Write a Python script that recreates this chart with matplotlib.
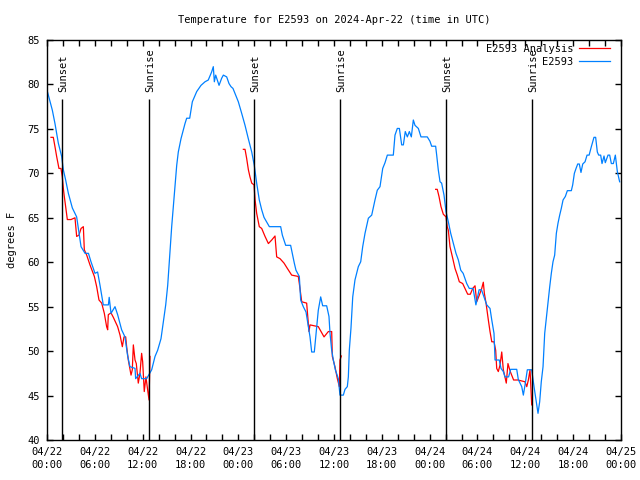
import numpy as np
import matplotlib
matplotlib.use('Agg')
import matplotlib.pyplot as plt

# Temperature for E2593, 3 days from 2024-04-22 00:00 UTC (hours since start)
obs_hours = [0.08, 0.67, 1.0, 1.42, 1.84, 2.05, 2.34, 2.68, 3.18, 3.72, 3.93, 4.27, 4.77, 5.2, 5.5,
             6.02, 6.35, 6.65, 7.06, 7.7, 7.8, 8.03, 8.53, 8.86, 9.36, 9.78, 10.1, 10.4, 11.04, 11.12,
             11.66, 11.87, 12.5, 13.13, 13.55, 13.88, 14.3, 14.6, 14.89, 15.14, 15.43, 15.64, 15.97,
             16.27, 16.47, 16.81, 17.31, 17.52, 17.9, 18.23, 18.78, 19.32, 19.82, 20.23, 20.65, 20.86,
             20.99, 21.16, 21.58, 21.91, 22.12, 22.54, 22.83, 23.08, 23.33, 23.58, 24.0, 24.42, 24.84,
             25.25, 25.68, 26.0, 26.3, 26.63, 26.93, 27.22, 27.89, 29.31, 29.52, 29.94, 30.56, 30.81,
             31.02, 31.23, 31.65, 31.82, 32.15, 32.49, 32.78, 32.99, 33.2, 33.53, 33.83, 34.03, 34.33,
             34.58, 35.08, 35.37, 35.5, 35.71, 35.92, 36.17, 36.54, 36.75, 37.17, 37.38, 37.67, 37.8,
             37.92, 38.13, 38.35, 38.63, 39.05, 39.35, 39.6, 39.89, 40.31, 40.73, 41.14, 41.43, 41.77,
             42.11, 42.4, 42.69, 43.44, 43.65, 43.94, 44.2, 44.49, 44.7, 44.94, 45.2, 45.45, 45.7,
             45.95, 46.16, 46.58, 46.91, 47.7, 48.04, 48.25, 48.75, 48.88, 49.08, 49.3, 49.5, 49.8,
             50.05, 50.34, 50.64, 50.97, 51.3, 51.6, 51.9, 52.2, 52.65, 52.97, 53.45, 53.8, 54.2, 54.5,
             54.87, 55.16, 55.57, 55.79, 56.07, 56.2, 56.73, 56.95, 57.24, 57.45, 57.9, 58.16, 58.92,
             59.12, 59.55, 59.75, 60.0, 60.25, 60.8, 61.09, 61.38, 61.59, 61.8, 62.0, 62.22, 62.43,
             62.63, 62.84, 63.06, 63.26, 63.47, 63.68, 63.89, 64.1, 64.31, 64.51, 64.73, 65.02, 65.27,
             65.77, 65.94, 66.15, 66.36, 66.57, 66.77, 66.98, 67.2, 67.49, 67.74, 68.0, 68.28, 68.61,
             68.82, 69.03, 69.2, 69.45, 69.62, 69.87, 70.03, 70.37, 70.58, 70.79, 71.04, 71.29, 71.54,
             71.83]
obs_temps = [79.1, 77.1, 75.6, 73.4, 71.9, 70.4, 69.25, 67.75, 66.1, 65.1, 63.8, 61.75, 61.0, 61.0, 60.1,
             58.75, 58.9, 57.4, 55.2, 55.2, 56.05, 54.25, 55.0, 54.1, 52.4, 51.6, 49.55, 48.25, 48.06, 46.9,
             47.5, 46.9, 46.9, 47.9, 49.4, 50.1, 51.4, 53.3, 55.2, 57.4, 61.2, 64.0, 67.6,
             70.9, 72.4, 73.9, 75.6, 76.2, 76.2, 78.05, 79.2, 79.9, 80.3, 80.5, 81.4, 82.0,
             80.3, 81.05, 79.9, 80.7, 81.05, 80.85, 80.1, 79.75, 79.55, 79.0, 78.05, 76.75, 75.4,
             73.9, 72.4, 70.9, 68.9, 67.0, 65.9, 65.05, 64.0, 64.0, 63.05, 61.9, 61.9, 60.8,
             59.9, 59.1, 58.4, 55.75, 55.0, 54.4, 52.75, 51.6, 49.9, 49.9, 52.75, 54.6, 56.1,
             55.1, 55.1, 53.9, 52.0, 50.1, 49.0, 47.9, 46.9, 45.05, 45.05, 45.7, 46.0, 47.1,
             50.1, 52.6, 56.1, 58.0, 59.5, 60.05, 61.75, 63.25, 64.95, 65.3, 67.0, 68.1, 68.5,
             70.55, 71.2, 72.05, 72.05, 74.3, 75.05, 75.05, 73.2, 73.2, 74.7, 74.1, 74.7, 74.1,
             76.0, 75.4, 75.05, 74.1, 74.1, 73.6, 73.05, 73.05, 72.05, 70.4, 69.05, 68.9, 67.55,
             65.7, 64.55, 63.25, 62.1, 61.0, 60.25, 59.1, 58.75, 57.6, 57.05, 57.05, 55.2, 56.9, 56.9,
             55.95, 55.2, 54.8, 53.5, 52.0, 49.0, 49.0, 48.05, 47.7, 47.1, 47.1, 47.95, 47.95,
             46.8, 46.0, 45.05, 46.4, 47.9, 47.9, 46.0, 44.3, 43.0, 44.3, 46.55, 48.25, 52.0,
             53.7, 55.55, 57.25, 58.75, 60.05, 60.8, 63.25, 64.4, 65.3, 66.05, 67.0, 67.4, 68.05,
             68.05, 68.7, 70.0, 70.55, 71.05, 71.05, 70.1, 71.05, 71.3, 72.05, 72.05, 73.0, 74.05,
             74.05, 72.4, 72.05, 72.05, 71.1, 71.95, 71.2, 72.05, 72.05, 71.1, 71.1, 72.05, 70.2,
             69.05]

# analysis runs (one per night)
ana1_hours = [0.5, 0.79, 1.0, 1.21, 1.5, 1.75, 1.92, 2.05, 2.17, 2.34, 2.55, 3.01, 3.51, 3.72, 4.01,
              4.27, 4.56, 4.68, 4.98, 5.39, 5.94, 6.23, 6.52, 6.86, 7.19, 7.48, 7.61, 7.69, 8.03, 8.32,
              8.86, 9.16, 9.45, 9.66, 9.87, 9.99, 10.2, 10.54, 10.7, 10.83, 11.04, 11.2, 11.45, 11.66,
              11.87, 12.0, 12.2, 12.41, 12.63, 12.8, 12.92]
ana1_temps = [74.05, 74.05, 73.0, 71.9, 70.55, 70.55, 69.6, 68.3, 67.4, 66.25, 64.8, 64.8, 65.0, 62.9, 63.05,
              63.8, 64.0, 61.4, 60.8, 59.7, 58.4, 57.25, 55.75, 55.4, 54.25, 52.75, 52.4, 54.1, 54.3, 53.8,
              52.75, 51.8, 50.5, 51.6, 51.6, 50.5, 49.0, 47.3, 47.9, 50.7, 49.0, 48.6, 46.4, 47.5,
              49.75, 48.8, 45.45, 47.1, 45.6, 44.5, 49.4]
ana2_hours = [24.63, 24.84, 25.04, 25.26, 25.46, 25.68, 25.97, 26.1, 26.3, 26.63, 26.93, 27.35, 27.77,
              28.19, 28.6, 28.81, 29.23, 29.73, 30.15, 30.69, 31.52, 31.65, 31.95, 32.57, 32.78, 32.86,
              32.99, 34.03, 34.75, 35.29, 35.71, 35.79, 36.12, 36.42, 36.67, 36.75, 36.92]
ana2_temps = [72.7, 72.7, 71.7, 70.4, 69.6, 68.9, 68.7, 67.0, 65.5, 64.0, 63.8, 62.9, 62.1,
              62.5, 62.95, 60.6, 60.4, 59.9, 59.3, 58.55, 58.4, 57.6, 55.55, 55.4, 53.1, 52.2,
              52.95, 52.75, 51.6, 52.2, 52.2, 49.4, 48.25, 46.9, 46.0, 49.0, 49.45]
ana3_hours = [48.75, 48.95, 49.17, 49.42, 49.71, 50.05, 50.2, 50.34, 50.55, 50.89, 51.18, 51.47, 51.72,
              52.14, 52.43, 52.77, 53.1, 53.4, 53.69, 53.9, 54.23, 54.53, 54.73, 54.86, 55.07, 55.36,
              55.57, 55.79, 56.07, 56.28, 56.41, 56.61, 56.83, 57.04, 57.24, 57.49, 57.61, 57.82, 58.11,
              58.53, 59.07, 59.96, 60.18, 60.38, 60.59, 60.8]
ana3_temps = [68.2, 68.2, 67.4, 66.25, 65.4, 65.1, 64.0, 63.6, 61.75, 60.45, 59.3, 58.55, 57.8,
              57.6, 57.05, 56.4, 56.4, 57.05, 57.35, 55.55, 56.3, 57.05, 57.75, 56.5, 55.4, 53.5,
              52.2, 51.05, 51.05, 50.1, 48.05, 47.7, 48.45, 49.9, 47.9, 46.9, 46.4, 48.6, 47.7,
              46.75, 46.75, 46.55, 46.0, 46.75, 47.9, 43.95]

sunset_hours = [1.88, 25.97, 50.05]
sunrise_hours = [12.8, 36.75, 60.85]

xtick_hours = list(range(0, 73, 6))
xtick_labels = ['04/22\n00:00', '04/22\n06:00', '04/22\n12:00', '04/22\n18:00',
                '04/23\n00:00', '04/23\n06:00', '04/23\n12:00', '04/23\n18:00',
                '04/24\n00:00', '04/24\n06:00', '04/24\n12:00', '04/24\n18:00',
                '04/25\n00:00']

plt.rcParams['font.family'] = 'DejaVu Sans Mono'
fs = 7.5

fig = plt.figure(figsize=(6.4, 4.8), dpi=100)
ax = fig.add_axes([47/640, 40/480, 574/640, 400/480])

red = '#ff0000'
blue = '#0080ff'
ax.plot(ana1_hours, ana1_temps, color=red, lw=0.9, label='E2593 Analysis')
ax.plot(ana2_hours, ana2_temps, color=red, lw=0.9)
ax.plot(ana3_hours, ana3_temps, color=red, lw=0.9)
ax.plot(obs_hours, obs_temps, color=blue, lw=0.9, label='E2593')

# sunset / sunrise markers
for h in sunset_hours:
    ax.vlines(h, 40, 78.4, color='black', lw=1, zorder=5)
    ax.text(h + 0.2, 79.1, 'Sunset', rotation=90, ha='center', va='bottom', fontsize=fs)
for h in sunrise_hours:
    ax.vlines(h, 40, 78.4, color='black', lw=1, zorder=5)
    ax.text(h + 0.2, 79.1, 'Sunrise', rotation=90, ha='center', va='bottom', fontsize=fs)

ax.set_xlim(0, 72)
ax.set_ylim(40, 85)
ax.set_xticks(xtick_hours)
ax.set_xticklabels(xtick_labels, fontsize=fs, linespacing=1.35)
ax.set_xticks(range(0, 73, 2), minor=True)
ax.set_yticks(range(40, 86, 5))
ax.tick_params(axis='y', labelsize=fs)
ax.tick_params(which='both', direction='in', top=True, right=True, length=4, width=1, color='black')
ax.tick_params(axis='x', pad=5)
ax.tick_params(axis='y', pad=5)
for s in ax.spines.values():
    s.set_linewidth(1)

ax.set_title('Temperature for E2593 on 2024-Apr-22 (time in UTC)', fontsize=fs, pad=12)
ax.set_ylabel('degrees F', fontsize=fs)
ax.yaxis.set_label_coords(-0.052, 0.5)

ax.legend(loc='upper right', bbox_to_anchor=(0.980, 0.99), borderaxespad=0, borderpad=0,
          frameon=False, markerfirst=False, fontsize=fs, handlelength=2.9, handletextpad=0.6,
          labelspacing=0.3)

fig.savefig('out.png', dpi=100)
